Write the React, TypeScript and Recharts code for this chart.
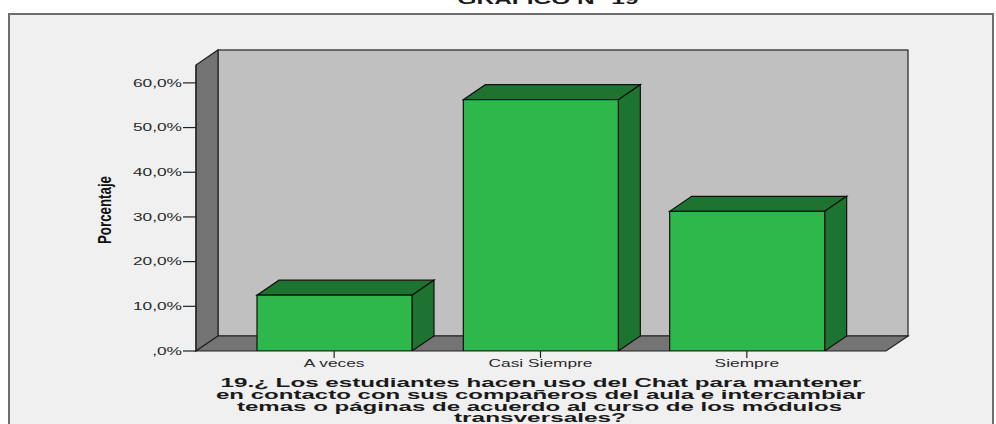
import React from 'react';
import { BarChart, Bar, XAxis, YAxis, ReferenceArea } from 'recharts';

const categories = ['A veces', 'Casi Siempre', 'Siempre'];
const percentages = [12.5, 56.25, 31.25];
const yTicks = [0, 10, 20, 30, 40, 50, 60];
const yMax = 64;
const chartTitle = 'GRÁFICO N° 19';
const yAxisTitle = 'Porcentaje';
const xAxisTitleLines = [
  '19.¿ Los estudiantes hacen uso del Chat para mantener',
  'en contacto con sus compañeros del aula e intercambiar',
  'temas o páginas de acuerdo al curso de los módulos',
  'transversales?',
];

const data = categories.map((c, i) => ({ name: c, value: percentages[i] }));

const DX = 22;
const DY = -15;
const PAD_L = 35;
const PAD_R = 36;
const EDGE = '#222';

const fmtPct = (v: number) => (v === 0 ? ',0%' : `${v},0%`);

const Walls = (props: any) => {
  const { y, height } = props;
  const x = props.x - PAD_L;
  const width = props.width + PAD_L + PAD_R;
  const b = y + height;
  return (
    <g>
      <rect x={x + DX} y={y + DY} width={width} height={height} fill="#c0c0c0" stroke={EDGE} strokeWidth={1.2} />
      <polygon
        points={`${x},${y} ${x + DX},${y + DY} ${x + DX},${b + DY} ${x},${b}`}
        fill="#747474"
        stroke={EDGE}
        strokeWidth={1.2}
      />
      <polygon
        points={`${x},${b} ${x + width},${b} ${x + width + DX},${b + DY} ${x + DX},${b + DY}`}
        fill="#747474"
        stroke={EDGE}
        strokeWidth={1.2}
      />
    </g>
  );
};

const Bar3D = (props: any) => {
  const { x, y, width, height } = props;
  if (width == null || height == null) return null;
  const b = y + height;
  return (
    <g>
      <polygon
        points={`${x},${y} ${x + width},${y} ${x + width + DX},${y + DY} ${x + DX},${y + DY}`}
        fill="#1d7430"
        stroke="#111"
        strokeWidth={1.2}
      />
      <polygon
        points={`${x + width},${y} ${x + width + DX},${y + DY} ${x + width + DX},${b + DY} ${x + width},${b}`}
        fill="#1d7430"
        stroke="#111"
        strokeWidth={1.2}
      />
      <rect x={x} y={y} width={width} height={height} fill="#2eb84b" stroke="#111" strokeWidth={1.2} />
    </g>
  );
};

const YTick = (props: any) => {
  const { x, y, payload } = props;
  return (
    <text
      transform={`translate(${x},${y + 3.7}) scale(1.65,1)`}
      textAnchor="end"
      fontFamily="'Liberation Sans', Arial, sans-serif"
      fontSize={10.5}
      fill="#2a2a2a"
    >
      {fmtPct(payload.value)}
    </text>
  );
};

const XTick = (props: any) => {
  const { x, y, payload } = props;
  return (
    <text
      transform={`translate(${x},${y + 6.5}) scale(1.65,1)`}
      textAnchor="middle"
      fontFamily="'Liberation Sans', Arial, sans-serif"
      fontSize={10.5}
      fill="#2a2a2a"
    >
      {payload.value}
    </text>
  );
};

const titleWidths = [641, 649, 605, 172];
const titleCenters = [541, 540.5, 539.5, 540];
const titleBaselines = [387, 399, 410.5, 421.5];

export default function App() {
  return (
    <div
      style={{
        position: 'fixed',
        left: 0,
        top: 0,
        width: 996,
        height: 424,
        background: '#ffffff',
        overflow: 'hidden',
      }}
    >
      <div
        style={{
          position: 'absolute',
          left: 8,
          top: 13,
          width: 986,
          height: 440,
          background: '#f0f0f0',
          border: '2px solid #6e6e6e',
          boxSizing: 'border-box',
        }}
      />
      <div style={{ position: 'absolute', left: 0, top: 0 }}>
        <BarChart
          width={996}
          height={424}
          data={data}
          margin={{ top: 65, right: 110, bottom: 43, left: 136 }}
        >
          <XAxis
            dataKey="name"
            padding={{ left: PAD_L, right: PAD_R }}
            axisLine={false}
            tickLine={{ stroke: '#222', strokeWidth: 1.2 }}
            tickSize={7}
            tickMargin={2}
            tick={<XTick />}
            height={30}
            interval={0}
          />
          <YAxis
            domain={[0, yMax]}
            ticks={yTicks}
            allowDataOverflow
            width={60}
            axisLine={{ stroke: '#222', strokeWidth: 1.2 }}
            tickLine={{ stroke: '#222', strokeWidth: 1.2 }}
            tickSize={13}
            tickMargin={1}
            tick={<YTick />}
          />
          <ReferenceArea y1={0} y2={yMax} shape={<Walls />} ifOverflow="visible" />
          <Bar dataKey="value" barSize={155} shape={<Bar3D />} isAnimationActive={false} />
        </BarChart>
      </div>
      <svg width={996} height={424} style={{ position: 'absolute', left: 0, top: 0, pointerEvents: 'none' }}>
        <text
          x={548}
          y={4}
          textAnchor="middle"
          fontFamily="'Liberation Sans', Arial, sans-serif"
          fontWeight="bold"
          fontSize={14}
          textLength={181}
          lengthAdjust="spacingAndGlyphs"
          fill="#1a1a1a"
        >
          {chartTitle}
        </text>
        <text
          transform="translate(111,210) rotate(-90)"
          textAnchor="middle"
          fontFamily="'Liberation Sans', Arial, sans-serif"
          fontWeight="bold"
          fontSize={18}
          textLength={68}
          lengthAdjust="spacingAndGlyphs"
          fill="#111"
        >
          {yAxisTitle}
        </text>
        {xAxisTitleLines.map((line, i) => (
          <text
            key={i}
            x={titleCenters[i]}
            y={titleBaselines[i]}
            textAnchor="middle"
            fontFamily="'Liberation Sans', Arial, sans-serif"
            fontWeight="bold"
            fontSize={13.5}
            textLength={titleWidths[i]}
            lengthAdjust="spacingAndGlyphs"
            fill="#1a1a1a"
          >
            {line}
          </text>
        ))}
      </svg>
    </div>
  );
}
